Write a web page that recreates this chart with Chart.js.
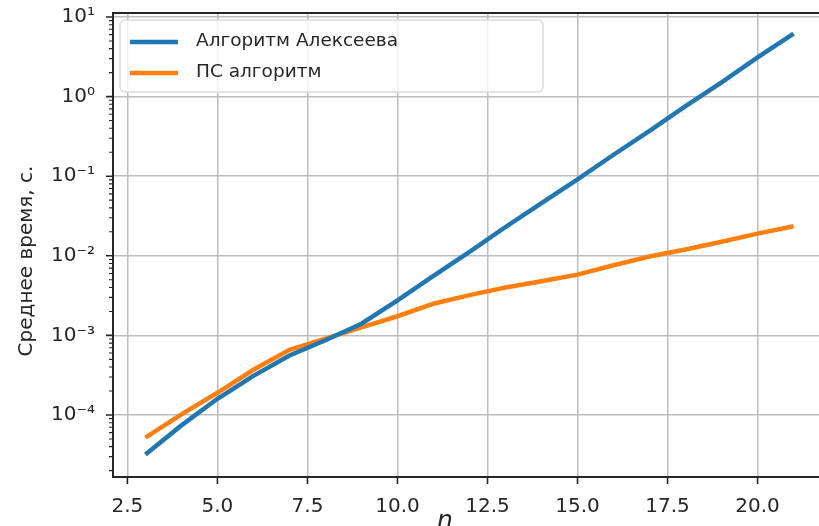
<!DOCTYPE html>
<html>
<head>
<meta charset="utf-8">
<script src="https://cdn.jsdelivr.net/npm/chart.js@4.4.0/dist/chart.umd.min.js"></script>
<style>
  html, body { margin: 0; padding: 0; background: #ffffff; overflow: hidden; }
  #wrap { width: 830px; height: 526px; }
</style>
</head>
<body>
<div id="wrap"><canvas id="c" width="830" height="526"></canvas></div>
<script>
// Mean running time (seconds) against problem size n
const nValues = [3, 4, 5, 6, 7, 8, 9, 10, 11, 12, 13, 14, 15, 16, 17, 18, 19, 20, 21];
const alekseevTimes = [3.2e-5, 7.4e-5, 1.6e-4, 3.1e-4, 5.6e-4, 8.7e-4, 1.4e-3, 2.75e-3, 5.6e-3, 1.12e-2,
                       2.3e-2, 4.6e-2, 9.1e-2, 0.186, 0.37, 0.76, 1.51, 3.1, 6.2];
const psTimes = [5.2e-5, 1.02e-4, 1.9e-4, 3.7e-4, 6.6e-4, 9.1e-4, 1.26e-3, 1.74e-3, 2.5e-3, 3.2e-3,
                 4.0e-3, 4.8e-3, 5.8e-3, 7.6e-3, 9.8e-3, 1.2e-2, 1.5e-2, 1.9e-2, 2.35e-2];

const seriesLabels = ['Алгоритм Алексеева', 'ПС алгоритм'];
const seriesColors = ['#1f77b4', '#ff7f0e'];
const xTickValues = [2.5, 5, 7.5, 10, 12.5, 15, 17.5, 20];
const yTickExponents = [-4, -3, -2, -1, 0, 1];
const yAxisTitle = 'Среднее время, с.';
const xAxisTitle = 'n';

const FONT = '"DejaVu Sans", sans-serif';
const INK = '#262626';
const GRID = '#bdbdbd';

const SUP = { '-': '⁻', '0': '⁰', '1': '¹', '2': '²', '3': '³', '4': '⁴',
              '5': '⁵', '6': '⁶', '7': '⁷', '8': '⁸', '9': '⁹' };
function powerLabel(exp) {
  return '10' + String(exp).split('').map(ch => SUP[ch]).join('');
}

// Spines, outward tick marks, axis titles and the framed legend
const framePlugin = {
  id: 'frame',
  afterDraw(chart) {
    const { ctx, chartArea: a, scales: { x, y } } = chart;
    ctx.save();
    ctx.strokeStyle = INK;
    ctx.lineWidth = 1.6;
    ctx.beginPath();
    xTickValues.forEach(v => {
      const px = x.getPixelForValue(v);
      ctx.moveTo(px, a.bottom); ctx.lineTo(px, a.bottom + 7);
    });
    yTickExponents.forEach(e => {
      const py = y.getPixelForValue(Math.pow(10, e));
      ctx.moveTo(a.left, py); ctx.lineTo(a.left - 7, py);
    });
    ctx.stroke();
    ctx.lineWidth = 1.1;
    ctx.beginPath();
    for (let e = -6; e <= 2; e++) {
      for (let m = 2; m <= 9; m++) {
        const v = m * Math.pow(10, e);
        if (v < y.min || v > y.max) continue;
        const py = y.getPixelForValue(v);
        ctx.moveTo(a.left, py); ctx.lineTo(a.left - 4, py);
      }
    }
    ctx.stroke();
    ctx.lineWidth = 2;
    ctx.strokeRect(a.left, a.top, a.right - a.left, a.bottom - a.top);

    ctx.fillStyle = INK;
    // horizontal axis letter
    ctx.font = 'italic 25px "DejaVu Sans", sans-serif';
    ctx.textAlign = 'center';
    ctx.textBaseline = 'alphabetic';
    ctx.fillText(xAxisTitle, 445, 528);
    // vertical axis title
    ctx.save();
    ctx.translate(32, 261);
    ctx.rotate(-Math.PI / 2);
    ctx.font = '20px ' + FONT;
    ctx.fillText(yAxisTitle, 0, 0);
    ctx.restore();

    // legend
    const bx = 120, by = 20, bw = 423, bh = 72, r = 5;
    ctx.beginPath();
    ctx.moveTo(bx + r, by);
    ctx.arcTo(bx + bw, by, bx + bw, by + bh, r);
    ctx.arcTo(bx + bw, by + bh, bx, by + bh, r);
    ctx.arcTo(bx, by + bh, bx, by, r);
    ctx.arcTo(bx, by, bx + bw, by, r);
    ctx.closePath();
    ctx.fillStyle = 'rgba(255,255,255,0.8)';
    ctx.fill();
    ctx.strokeStyle = '#dcdcdc';
    ctx.lineWidth = 1.5;
    ctx.stroke();
    ctx.font = '18.5px ' + FONT;
    ctx.textAlign = 'left';
    ctx.textBaseline = 'middle';
    chart.data.datasets.forEach((ds, i) => {
      const ly = 42 + i * 31;
      ctx.strokeStyle = ds.borderColor;
      ctx.lineWidth = 4.5;
      ctx.beginPath();
      ctx.moveTo(130, ly); ctx.lineTo(178, ly);
      ctx.stroke();
      ctx.fillStyle = INK;
      ctx.fillText(ds.label, 196, ly - 1);
    });
    ctx.restore();
  }
};

new Chart(document.getElementById('c'), {
  type: 'line',
  data: {
    datasets: [
      {
        label: seriesLabels[0],
        data: nValues.map((n, i) => ({ x: n, y: alekseevTimes[i] })),
        borderColor: seriesColors[0],
        borderWidth: 4.5,
        pointRadius: 0,
        tension: 0,
        fill: false
      },
      {
        label: seriesLabels[1],
        data: nValues.map((n, i) => ({ x: n, y: psTimes[i] })),
        borderColor: seriesColors[1],
        borderWidth: 4.5,
        pointRadius: 0,
        tension: 0,
        fill: false
      }
    ]
  },
  options: {
    responsive: false,
    animation: false,
    devicePixelRatio: 1,
    layout: { autoPadding: false, padding: { top: 13, right: 4, left: 0, bottom: 0 } },
    plugins: { legend: { display: false }, tooltip: { enabled: false } },
    scales: {
      x: {
        type: 'linear',
        min: 2.1,
        max: 21.9,
        afterBuildTicks(scale) { scale.ticks = xTickValues.map(v => ({ value: v })); },
        afterFit(scale) {
          scale.height = 49;
          scale.paddingLeft = 0; scale.paddingRight = 0;
          scale.paddingTop = 0; scale.paddingBottom = 0;
        },
        grid: { color: GRID, lineWidth: 1.5, drawTicks: false },
        border: { display: false },
        ticks: {
          padding: 18,
          color: INK,
          font: { family: FONT, size: 20 },
          maxRotation: 0,
          autoSkip: false,
          callback: v => Number(v).toFixed(1)
        }
      },
      y: {
        type: 'logarithmic',
        min: Math.pow(10, -4.779),
        max: Math.pow(10, 1.05),
        afterBuildTicks(scale) { scale.ticks = yTickExponents.map(e => ({ value: Math.pow(10, e) })); },
        afterFit(scale) {
          scale.width = 113;
          scale.paddingLeft = 0; scale.paddingRight = 0;
          scale.paddingTop = 0; scale.paddingBottom = 0;
        },
        grid: { color: GRID, lineWidth: 1.5, drawTicks: false },
        border: { display: false },
        ticks: {
          padding: 18,
          color: INK,
          font: { family: FONT, size: 20 },
          autoSkip: false,
          callback: v => powerLabel(Math.round(Math.log10(v)))
        }
      }
    }
  },
  plugins: [framePlugin]
});
</script>
</body>
</html>
